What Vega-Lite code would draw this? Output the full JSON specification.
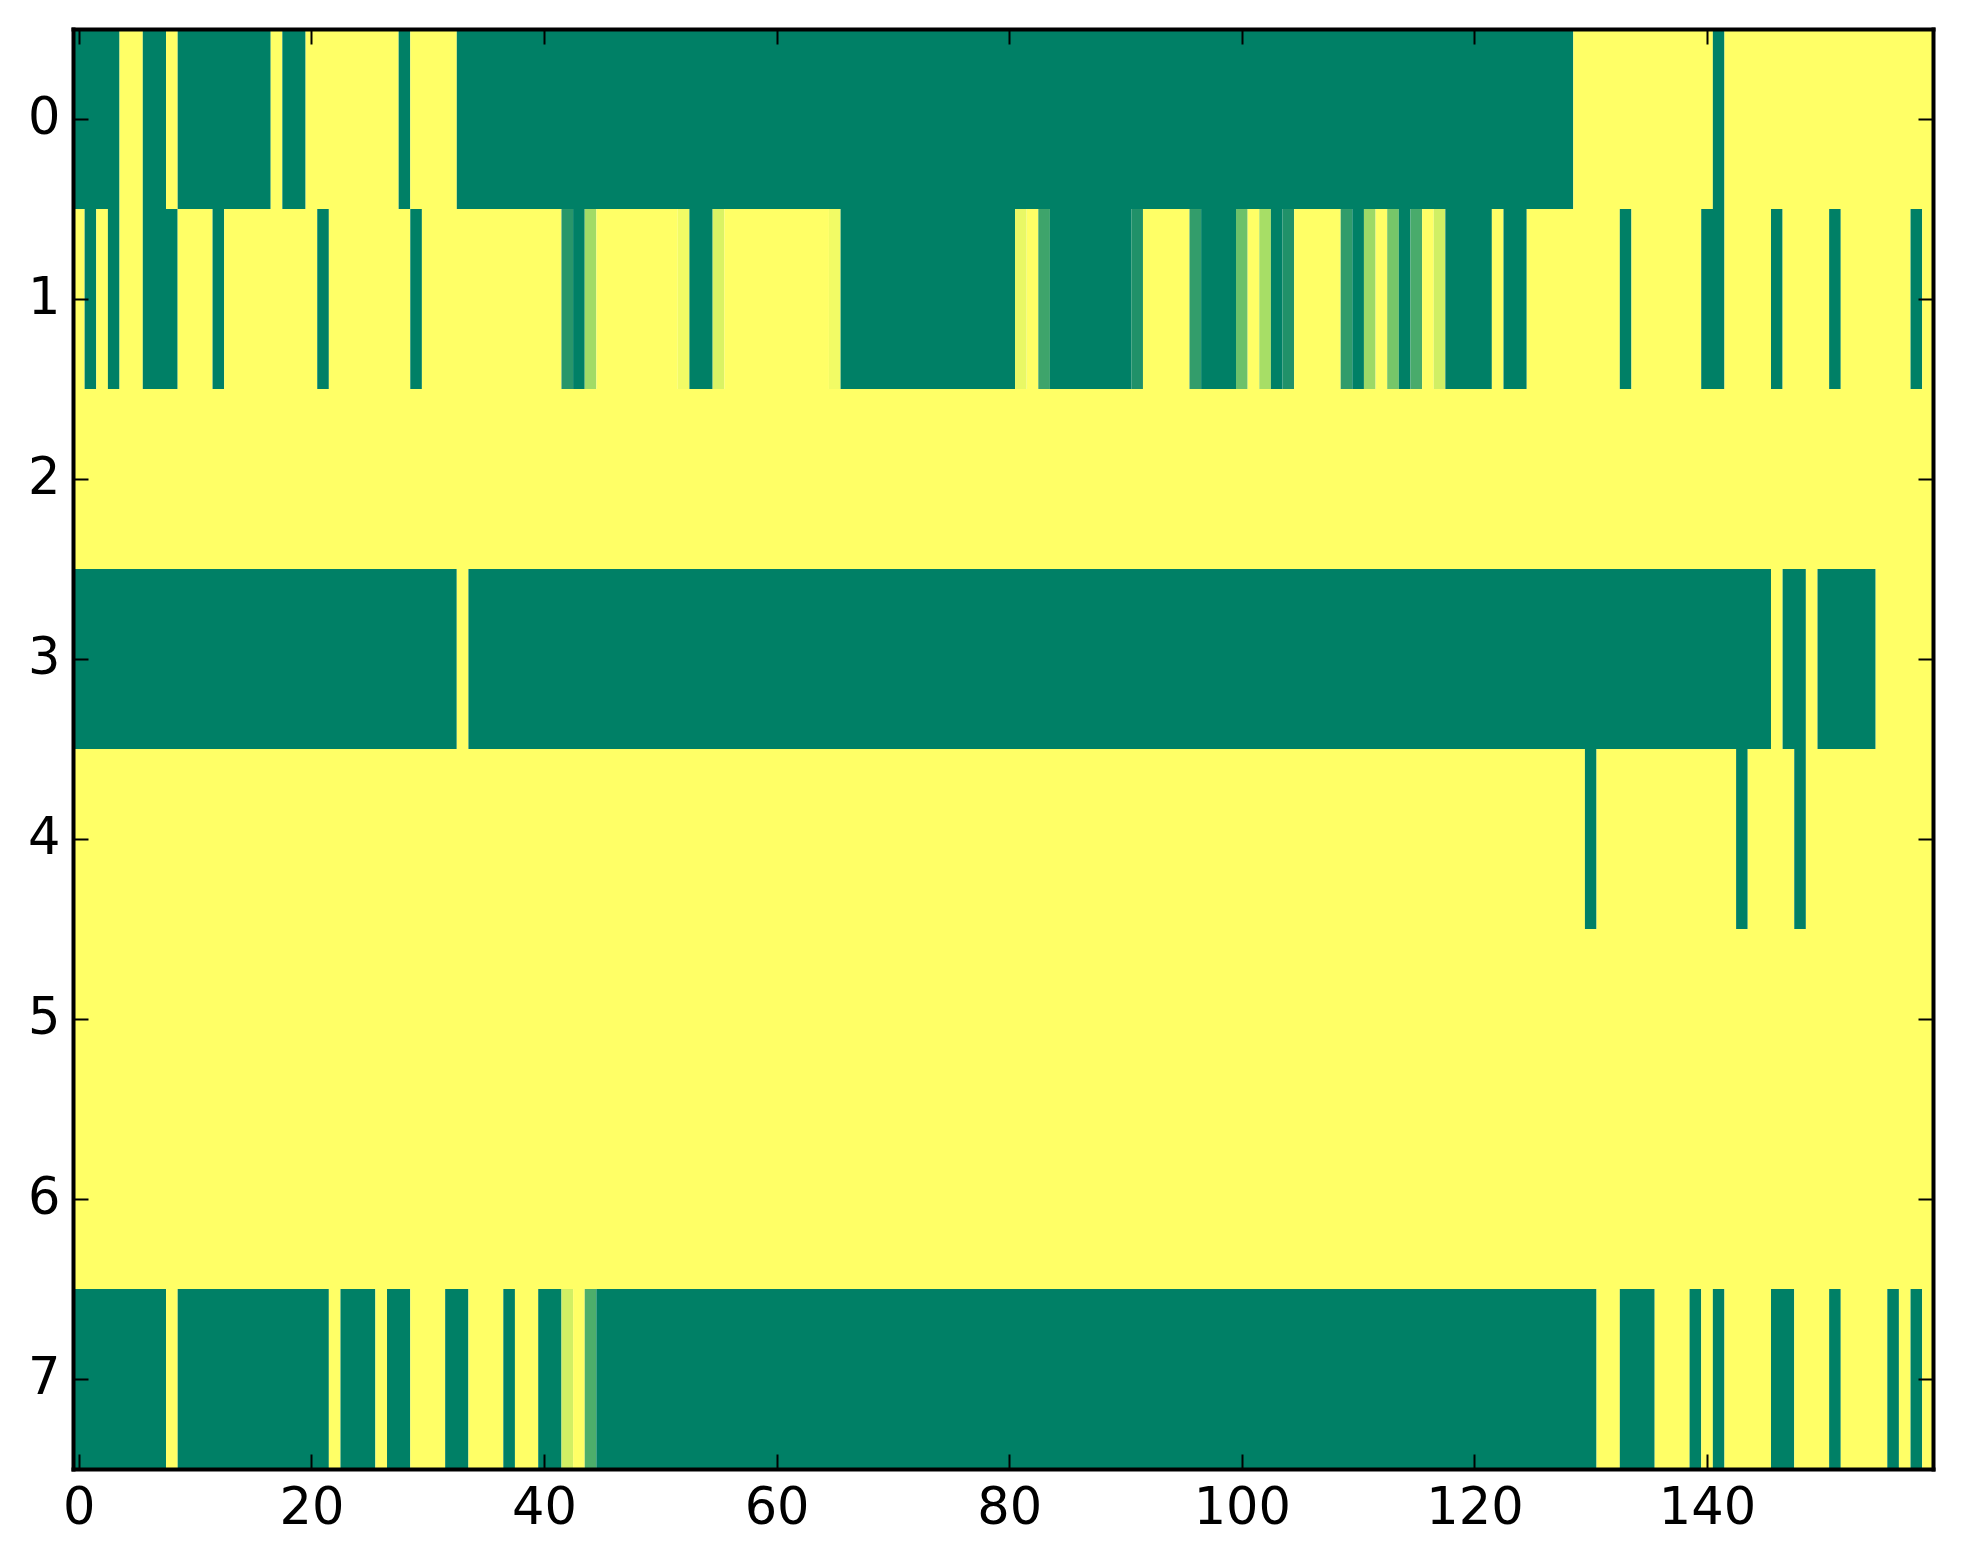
{
  "$schema": "https://vega.github.io/schema/vega-lite/v6.json",
  "width": 1860,
  "height": 1440,
  "autosize": "none",
  "padding": {"left": 73, "top": 29, "right": 30, "bottom": 95},
  "background": "white",
  "config": {
    "view": {"stroke": null},
    "axis": {
      "grid": false,
      "domainColor": "black",
      "domainWidth": 4,
      "domainCap": "square",
      "tickColor": "black",
      "tickWidth": 2,
      "tickSize": -15,
      "labelFont": "DejaVu Sans",
      "labelFontSize": 51,
      "labelColor": "black",
      "labelAngle": 0,
      "title": null
    }
  },
  "data": {
    "values": [
      {"row":0,"start":-0.5,"end":3.5,"v":0},{"row":0,"start":3.5,"end":5.5,"v":1},{"row":0,"start":5.5,"end":7.5,"v":0},{"row":0,"start":7.5,"end":8.5,"v":1},{"row":0,"start":8.5,"end":16.5,"v":0},{"row":0,"start":16.5,"end":17.5,"v":1},{"row":0,"start":17.5,"end":19.5,"v":0},{"row":0,"start":19.5,"end":27.5,"v":1},{"row":0,"start":27.5,"end":28.5,"v":0},{"row":0,"start":28.5,"end":32.5,"v":1},{"row":0,"start":32.5,"end":128.5,"v":0},{"row":0,"start":128.5,"end":140.5,"v":1},{"row":0,"start":140.5,"end":141.5,"v":0},{"row":0,"start":141.5,"end":159.5,"v":1},
      {"row":1,"start":-0.5,"end":0.5,"v":1},{"row":1,"start":0.5,"end":1.5,"v":0},{"row":1,"start":1.5,"end":2.5,"v":1},{"row":1,"start":2.5,"end":3.5,"v":0},{"row":1,"start":3.5,"end":5.5,"v":1},{"row":1,"start":5.5,"end":8.5,"v":0},{"row":1,"start":8.5,"end":11.5,"v":1},{"row":1,"start":11.5,"end":12.5,"v":0},{"row":1,"start":12.5,"end":20.5,"v":1},{"row":1,"start":20.5,"end":21.5,"v":0},{"row":1,"start":21.5,"end":28.5,"v":1},{"row":1,"start":28.5,"end":29.5,"v":0},{"row":1,"start":29.5,"end":41.5,"v":1},{"row":1,"start":41.5,"end":42.5,"v":0.16},{"row":1,"start":42.5,"end":43.5,"v":0},{"row":1,"start":43.5,"end":44.5,"v":0.68},{"row":1,"start":44.5,"end":51.5,"v":1},{"row":1,"start":51.5,"end":52.5,"v":0.96},{"row":1,"start":52.5,"end":54.5,"v":0},{"row":1,"start":54.5,"end":55.5,"v":0.88},{"row":1,"start":55.5,"end":64.5,"v":1},{"row":1,"start":64.5,"end":65.5,"v":0.96},{"row":1,"start":65.5,"end":80.5,"v":0},{"row":1,"start":80.5,"end":81.5,"v":0.93},{"row":1,"start":81.5,"end":82.5,"v":1},{"row":1,"start":82.5,"end":83.5,"v":0.26},{"row":1,"start":83.5,"end":90.5,"v":0},{"row":1,"start":90.5,"end":91.5,"v":0.12},{"row":1,"start":91.5,"end":95.5,"v":1},{"row":1,"start":95.5,"end":96.5,"v":0.21},{"row":1,"start":96.5,"end":99.5,"v":0},{"row":1,"start":99.5,"end":100.5,"v":0.47},{"row":1,"start":100.5,"end":101.5,"v":1},{"row":1,"start":101.5,"end":102.5,"v":0.7},{"row":1,"start":102.5,"end":103.5,"v":0},{"row":1,"start":103.5,"end":104.5,"v":0.12},{"row":1,"start":104.5,"end":108.5,"v":1},{"row":1,"start":108.5,"end":109.5,"v":0.2},{"row":1,"start":109.5,"end":110.5,"v":0},{"row":1,"start":110.5,"end":111.5,"v":0.66},{"row":1,"start":111.5,"end":112.5,"v":1},{"row":1,"start":112.5,"end":113.5,"v":0.51},{"row":1,"start":113.5,"end":114.5,"v":0},{"row":1,"start":114.5,"end":115.5,"v":0.31},{"row":1,"start":115.5,"end":116.5,"v":1},{"row":1,"start":116.5,"end":117.5,"v":0.85},{"row":1,"start":117.5,"end":121.5,"v":0},{"row":1,"start":121.5,"end":122.5,"v":1},{"row":1,"start":122.5,"end":124.5,"v":0},{"row":1,"start":124.5,"end":132.5,"v":1},{"row":1,"start":132.5,"end":133.5,"v":0},{"row":1,"start":133.5,"end":139.5,"v":1},{"row":1,"start":139.5,"end":141.5,"v":0},{"row":1,"start":141.5,"end":145.5,"v":1},{"row":1,"start":145.5,"end":146.5,"v":0},{"row":1,"start":146.5,"end":150.5,"v":1},{"row":1,"start":150.5,"end":151.5,"v":0},{"row":1,"start":151.5,"end":157.5,"v":1},{"row":1,"start":157.5,"end":158.5,"v":0},{"row":1,"start":158.5,"end":159.5,"v":1},
      {"row":2,"start":-0.5,"end":159.5,"v":1},
      {"row":3,"start":-0.5,"end":32.5,"v":0},{"row":3,"start":32.5,"end":33.5,"v":1},{"row":3,"start":33.5,"end":145.5,"v":0},{"row":3,"start":145.5,"end":146.5,"v":1},{"row":3,"start":146.5,"end":148.5,"v":0},{"row":3,"start":148.5,"end":149.5,"v":1},{"row":3,"start":149.5,"end":154.5,"v":0},{"row":3,"start":154.5,"end":159.5,"v":1},
      {"row":4,"start":-0.5,"end":129.5,"v":1},{"row":4,"start":129.5,"end":130.5,"v":0},{"row":4,"start":130.5,"end":142.5,"v":1},{"row":4,"start":142.5,"end":143.5,"v":0},{"row":4,"start":143.5,"end":147.5,"v":1},{"row":4,"start":147.5,"end":148.5,"v":0},{"row":4,"start":148.5,"end":159.5,"v":1},
      {"row":5,"start":-0.5,"end":159.5,"v":1},
      {"row":6,"start":-0.5,"end":159.5,"v":1},
      {"row":7,"start":-0.5,"end":7.5,"v":0},{"row":7,"start":7.5,"end":8.5,"v":1},{"row":7,"start":8.5,"end":21.5,"v":0},{"row":7,"start":21.5,"end":22.5,"v":1},{"row":7,"start":22.5,"end":25.5,"v":0},{"row":7,"start":25.5,"end":26.5,"v":1},{"row":7,"start":26.5,"end":28.5,"v":0},{"row":7,"start":28.5,"end":31.5,"v":1},{"row":7,"start":31.5,"end":33.5,"v":0},{"row":7,"start":33.5,"end":36.5,"v":1},{"row":7,"start":36.5,"end":37.5,"v":0},{"row":7,"start":37.5,"end":39.5,"v":1},{"row":7,"start":39.5,"end":41.5,"v":0},{"row":7,"start":41.5,"end":42.5,"v":0.85},{"row":7,"start":42.5,"end":43.5,"v":1},{"row":7,"start":43.5,"end":44.5,"v":0.33},{"row":7,"start":44.5,"end":130.5,"v":0},{"row":7,"start":130.5,"end":132.5,"v":1},{"row":7,"start":132.5,"end":135.5,"v":0},{"row":7,"start":135.5,"end":138.5,"v":1},{"row":7,"start":138.5,"end":139.5,"v":0},{"row":7,"start":139.5,"end":140.5,"v":1},{"row":7,"start":140.5,"end":141.5,"v":0},{"row":7,"start":141.5,"end":145.5,"v":1},{"row":7,"start":145.5,"end":147.5,"v":0},{"row":7,"start":147.5,"end":150.5,"v":1},{"row":7,"start":150.5,"end":151.5,"v":0},{"row":7,"start":151.5,"end":155.5,"v":1},{"row":7,"start":155.5,"end":156.5,"v":0},{"row":7,"start":156.5,"end":157.5,"v":1},{"row":7,"start":157.5,"end":158.5,"v":0},{"row":7,"start":158.5,"end":159.5,"v":1}
    ]
  },
  "resolve": {"axis": {"x": "independent", "y": "independent"}},
  "layer": [
    {
      "mark": {"type": "rect", "clip": true},
      "encoding": {
        "x": {
          "field": "start",
          "type": "quantitative",
          "scale": {"domain": [-0.5, 159.43], "nice": false, "zero": false},
          "axis": {"orient": "bottom", "values": [0, 20, 40, 60, 80, 100, 120, 140], "format": "d", "labelPadding": 29, "zindex": 1}
        },
        "x2": {"field": "end"},
        "y": {
          "field": "row",
          "type": "ordinal",
          "scale": {"domain": [0, 1, 2, 3, 4, 5, 6, 7], "paddingInner": 0, "paddingOuter": 0},
          "axis": {"orient": "left", "labelPadding": 28, "zindex": 1}
        },
        "color": {
          "field": "v",
          "type": "quantitative",
          "scale": {"domain": [0, 1], "range": ["#008066", "#ffff66"]},
          "legend": null
        }
      }
    },
    {
      "data": {"values": []},
      "mark": "rect",
      "encoding": {
        "x": {
          "field": "start",
          "type": "quantitative",
          "scale": {"domain": [-0.5, 159.43], "nice": false, "zero": false},
          "axis": {"orient": "top", "values": [0, 20, 40, 60, 80, 100, 120, 140], "labels": false, "zindex": 1}
        },
        "x2": {"field": "end"},
        "y": {
          "field": "row",
          "type": "ordinal",
          "scale": {"domain": [0, 1, 2, 3, 4, 5, 6, 7], "paddingInner": 0, "paddingOuter": 0},
          "axis": {"orient": "right", "labels": false, "zindex": 1}
        }
      }
    }
  ]
}
